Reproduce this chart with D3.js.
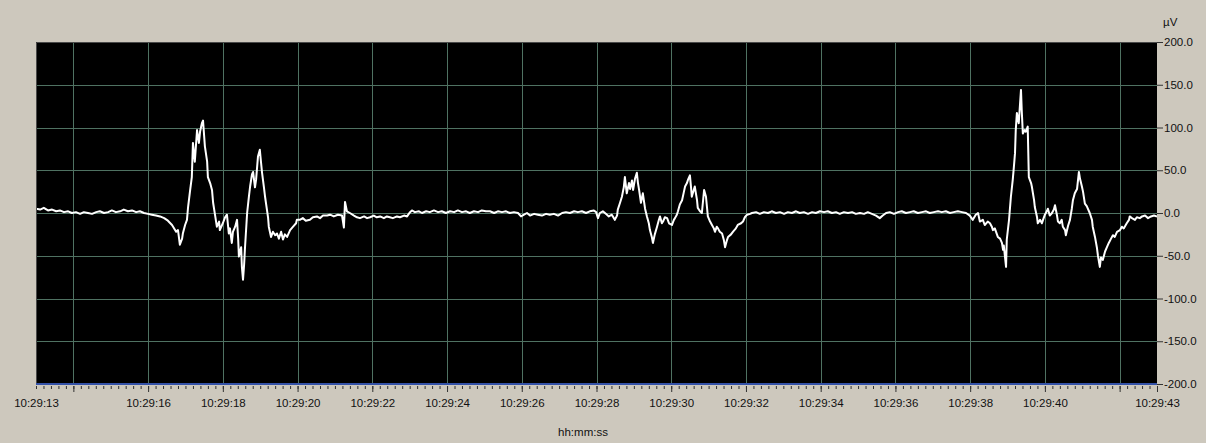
<!DOCTYPE html>
<html>
<head>
<meta charset="utf-8">
<script src="https://cdn.jsdelivr.net/npm/d3@7"></script>
<style>
  body { margin: 0; background: #cdc8bd; }
  svg { display: block; font-family: "Liberation Sans", Arial, sans-serif; }
  .axis text { fill: #111; font-size: 11.5px; }
  .axis line { stroke: #333; }
</style>
</head>
<body>
<svg id="graph"></svg>
<script>
// trace segments: [seconds after 10:29:13, µV]
const quiet1 = [[0.00,5],[0.11,4],[0.21,6],[0.32,3],[0.43,4],[0.54,2],[0.64,3],[0.75,1],[0.86,2],[0.96,0],[1.07,1],[1.18,-1],[1.28,1],[1.39,0],[1.50,-1],[1.61,1],[1.71,2],[1.82,0],[1.93,1],[2.03,3],[2.14,1],[2.25,2],[2.35,4],[2.46,2],[2.57,3],[2.68,1],[2.78,2],[2.89,0],[3.00,-1],[3.10,-2],[3.21,-3],[3.32,-4],[3.43,-6],[3.53,-9]];

const burst1 = [[3.64,-14],[3.75,-22],[3.80,-20],[3.85,-37],[3.91,-30],[3.93,-24],[3.99,-14],[4.04,-8],[4.07,7],[4.12,25],[4.17,42],[4.20,82],[4.25,60],[4.31,97],[4.36,82],[4.39,95],[4.44,105],[4.47,108],[4.52,78],[4.58,60],[4.60,42],[4.66,35],[4.71,27],[4.74,12],[4.79,-2],[4.84,-16],[4.90,-10],[4.92,-20],[4.98,-14],[5.00,-12],[5.06,-5],[5.11,-2],[5.16,-24],[5.19,-18],[5.24,-35],[5.27,-22],[5.33,-16],[5.38,-8],[5.41,-30],[5.43,-51],[5.49,-40],[5.51,-63],[5.54,-78],[5.57,-60],[5.59,-43],[5.65,0],[5.70,20],[5.73,31],[5.78,45],[5.81,48],[5.86,30],[5.89,39],[5.94,66],[5.99,74],[6.02,60],[6.05,47],[6.10,30],[6.13,19],[6.18,4],[6.21,-5],[6.23,-16],[6.29,-28],[6.34,-22],[6.40,-26],[6.45,-24],[6.50,-30],[6.56,-22],[6.61,-31],[6.66,-25],[6.72,-28],[6.80,-20],[6.88,-16],[6.96,-12],[6.98,-8],[7.06,-8]];

const quiet2 = [[7.14,-6],[7.22,-9],[7.33,-8],[7.41,-5],[7.52,-4],[7.60,-6],[7.68,-3],[7.79,-3],[7.87,-2],[7.97,-4],[8.08,-2],[8.19,-3],[8.24,-17],[8.27,13],[8.32,2],[8.40,0],[8.51,-3],[8.59,-5],[8.67,-6],[8.78,-4],[8.86,-6],[8.94,-5],[9.04,-3],[9.12,-5],[9.21,-4],[9.31,-6],[9.39,-4],[9.47,-5],[9.55,-6],[9.66,-4],[9.74,-5],[9.85,-3],[9.93,-4],[10.01,1],[10.06,3],[10.14,1],[10.25,2],[10.33,0],[10.44,2],[10.54,1],[10.65,3],[10.76,1],[10.86,2],[10.97,0],[11.08,2],[11.19,1],[11.29,3],[11.40,1],[11.51,2],[11.61,0],[11.72,2],[11.83,1],[11.93,3],[12.04,2],[12.15,2],[12.26,0],[12.36,2],[12.47,1],[12.58,2],[12.68,0],[12.79,1],[12.90,0],[12.98,-4],[13.06,-2],[13.14,0],[13.22,-3],[13.33,-1],[13.43,-2],[13.54,-3],[13.65,-1],[13.75,-2],[13.86,-1],[13.97,-3],[14.08,0],[14.18,1],[14.29,0],[14.40,2],[14.50,1],[14.61,2],[14.72,0],[14.82,2],[14.93,3],[14.99,1]];

const burst2 = [[15.04,-6],[15.09,0],[15.17,2],[15.25,-1],[15.33,-4],[15.41,-2],[15.49,-8],[15.55,-3],[15.57,4],[15.63,12],[15.68,19],[15.73,30],[15.76,42],[15.81,23],[15.87,35],[15.90,28],[15.95,38],[15.98,27],[16.03,40],[16.08,47],[16.11,35],[16.14,27],[16.19,12],[16.24,23],[16.30,5],[16.35,-4],[16.40,-12],[16.43,-20],[16.48,-28],[16.51,-35],[16.56,-25],[16.62,-16],[16.67,-8],[16.70,-4],[16.75,-12],[16.78,-10],[16.83,-5],[16.89,-6],[16.94,-12],[17.02,-14],[17.07,-8],[17.10,-6],[17.15,-2],[17.18,2],[17.23,10],[17.29,15],[17.34,25],[17.37,31],[17.42,35],[17.45,39],[17.50,44],[17.53,30],[17.55,19],[17.61,28],[17.63,31],[17.69,15],[17.71,6],[17.77,2],[17.82,0],[17.88,27],[17.93,19],[17.98,-4],[18.04,-10],[18.09,-14],[18.14,-18],[18.17,-22],[18.22,-16],[18.25,-18],[18.30,-22],[18.36,-24],[18.41,-32],[18.44,-40],[18.49,-32],[18.52,-28],[18.60,-25],[18.65,-22],[18.73,-18],[18.78,-14],[18.87,-12],[18.92,-10],[18.97,-5],[19.03,-2],[19.11,-1],[19.16,0]];

const quiet3 = [[19.27,1],[19.37,-1],[19.48,1],[19.59,0],[19.69,2],[19.80,0],[19.91,1],[20.02,-1],[20.12,1],[20.23,0],[20.34,2],[20.44,0],[20.55,1],[20.66,-1],[20.77,1],[20.87,0],[20.98,2],[21.09,1],[21.19,2],[21.30,0],[21.41,1],[21.51,-1],[21.62,1],[21.73,0],[21.84,1],[21.94,-1],[22.05,0],[22.16,-1],[22.26,1],[22.37,-1],[22.48,-3],[22.58,-6],[22.66,-3],[22.75,0],[22.85,1],[22.96,-1],[23.07,1],[23.17,2],[23.28,0],[23.39,1],[23.49,2],[23.60,0],[23.71,1],[23.82,2],[23.92,0],[24.03,1],[24.14,2],[24.24,1],[24.35,2],[24.46,0],[24.56,1],[24.67,2],[24.78,1],[24.89,0]];

const burst3 = [[24.99,-3],[25.07,-8],[25.15,-2],[25.21,0],[25.26,-10],[25.34,-8],[25.39,-14],[25.47,-10],[25.53,-12],[25.58,-16],[25.61,-20],[25.66,-18],[25.74,-28],[25.80,-30],[25.85,-35],[25.88,-43],[25.90,-38],[25.96,-63],[25.98,-31],[26.04,-8],[26.09,19],[26.14,39],[26.17,54],[26.20,70],[26.22,97],[26.25,117],[26.30,105],[26.36,144],[26.38,120],[26.41,93],[26.46,97],[26.49,95],[26.54,101],[26.57,42],[26.63,35],[26.65,31],[26.71,15],[26.73,7],[26.79,-5],[26.81,-12],[26.87,-8],[26.92,-12],[26.95,-8],[27.00,-2],[27.05,2],[27.08,5],[27.13,-3],[27.19,0],[27.24,4],[27.27,9],[27.32,-2],[27.35,-10],[27.40,-12],[27.45,-8],[27.48,-16],[27.54,-20],[27.56,-26],[27.62,-15],[27.67,-8],[27.72,5],[27.75,15],[27.80,23],[27.86,28],[27.91,48],[27.94,40],[27.99,31],[28.02,25],[28.07,11],[28.12,8],[28.20,0],[28.26,-8],[28.28,-16],[28.34,-28],[28.39,-40],[28.42,-50],[28.47,-63],[28.50,-52],[28.55,-55],[28.61,-45],[28.66,-40],[28.71,-35],[28.77,-30],[28.82,-26],[28.87,-28],[28.93,-22],[29.01,-20],[29.06,-16],[29.11,-18],[29.19,-12],[29.25,-8],[29.27,-4],[29.33,-6],[29.41,-8],[29.46,-5],[29.54,-6],[29.60,-4],[29.68,-3],[29.76,-6],[29.84,-4],[29.92,-3],[30.00,-4]];

// axes
const labelSecs = [0, 3, 5, 7, 9, 11, 13, 15, 17, 19, 21, 23, 25, 27, 30]; // 10:29:13 ... 10:29:43
const gridSecs = [1, 3, 5, 7, 9, 11, 13, 15, 17, 19, 21, 23, 25, 27, 29];   // even seconds
const yTicks = [-200, -150, -100, -50, 0, 50, 100, 150, 200];

const width = 1206, height = 443;
const margin = { top: 42, right: 49, bottom: 59, left: 36 };
const plotW = width - margin.left - margin.right;
const plotH = height - margin.top - margin.bottom;

const startTime = new Date(2000, 0, 1, 10, 29, 13);
const toDate = s => new Date(startTime.getTime() + s * 1000);

const svg = d3.select('#graph').attr('width', width).attr('height', height);

const xScale = d3.scaleTime()
    .domain([toDate(0), toDate(30)])
    .range([margin.left, margin.left + plotW]);
const yScale = d3.scaleLinear()
    .domain([-200, 200])
    .range([margin.top + plotH, margin.top]);

// plot background
svg.append('rect')
    .attr('x', margin.left).attr('y', margin.top)
    .attr('width', plotW).attr('height', plotH)
    .attr('fill', '#000');

// grid
const grid = svg.append('g').attr('stroke', '#4f7262').attr('stroke-width', 1);
grid.selectAll('.vg').data(gridSecs).enter().append('line')
    .attr('x1', d => Math.round(xScale(toDate(d))) + 0.5)
    .attr('x2', d => Math.round(xScale(toDate(d))) + 0.5)
    .attr('y1', margin.top).attr('y2', margin.top + plotH);
grid.selectAll('.hg').data(yTicks.filter(d => Math.abs(d) < 200)).enter().append('line')
    .attr('x1', margin.left).attr('x2', margin.left + plotW)
    .attr('y1', d => Math.round(yScale(d)) + 0.5)
    .attr('y2', d => Math.round(yScale(d)) + 0.5);

// trace
svg.append('clipPath').attr('id', 'clip').append('rect')
    .attr('x', margin.left).attr('y', margin.top)
    .attr('width', plotW).attr('height', plotH);

const trace = [].concat(quiet1, burst1, quiet2, burst2, quiet3, burst3);
const line = d3.line()
    .x(d => xScale(toDate(d[0])))
    .y(d => yScale(d[1]));

svg.append('path')
    .datum(trace)
    .attr('clip-path', 'url(#clip)')
    .attr('d', line)
    .attr('fill', 'none')
    .attr('stroke', '#ffffff')
    .attr('stroke-width', 2)
    .attr('stroke-linejoin', 'round');

// sunken border top / left
svg.append('path')
    .attr('d', `M${margin.left + 0.5},${margin.top + plotH}V${margin.top + 0.5}H${margin.left + plotW}`)
    .attr('fill', 'none').attr('stroke', '#4a4a4a');

// blue bottom line
svg.append('line')
    .attr('x1', margin.left).attr('x2', margin.left + plotW)
    .attr('y1', margin.top + plotH).attr('y2', margin.top + plotH)
    .attr('stroke', '#3452a8').attr('stroke-width', 2);

// x axis: minor ticks, major ticks, labels
const xg = margin.top + plotH + 2;
svg.append('g').attr('class', 'axis')
    .attr('transform', `translate(0,${xg})`)
    .call(d3.axisBottom(xScale).tickValues(d3.range(0, 30.001, 0.2).map(toDate)).tickSize(3).tickFormat(''))
    .call(g => g.select('.domain').remove());
svg.append('g').attr('class', 'axis')
    .attr('transform', `translate(0,${xg})`)
    .call(d3.axisBottom(xScale).tickValues(gridSecs.concat([30]).map(toDate)).tickSize(6).tickFormat(''))
    .call(g => g.select('.domain').remove());
svg.append('g').attr('class', 'axis')
    .attr('transform', `translate(0,${xg})`)
    .call(d3.axisBottom(xScale).tickValues(labelSecs.map(toDate)).tickSize(0).tickPadding(13)
        .tickFormat(d3.timeFormat('%H:%M:%S')))
    .call(g => g.select('.domain').remove());

// y axis on the right
svg.append('g').attr('class', 'axis')
    .attr('transform', `translate(${margin.left + plotW},0)`)
    .call(d3.axisRight(yScale).tickValues(yTicks).tickSize(6).tickPadding(1)
        .tickFormat(d => d.toFixed(1)))
    .call(g => g.select('.domain').remove());

// titles
svg.append('text')
    .attr('x', 1163).attr('y', 26)
    .attr('fill', '#111').style('font-size', '11.5px')
    .text('µV');
svg.append('text')
    .attr('x', 583).attr('y', 436)
    .attr('text-anchor', 'middle')
    .attr('fill', '#111').style('font-size', '11.5px')
    .text('hh:mm:ss');
</script>
</body>
</html>
